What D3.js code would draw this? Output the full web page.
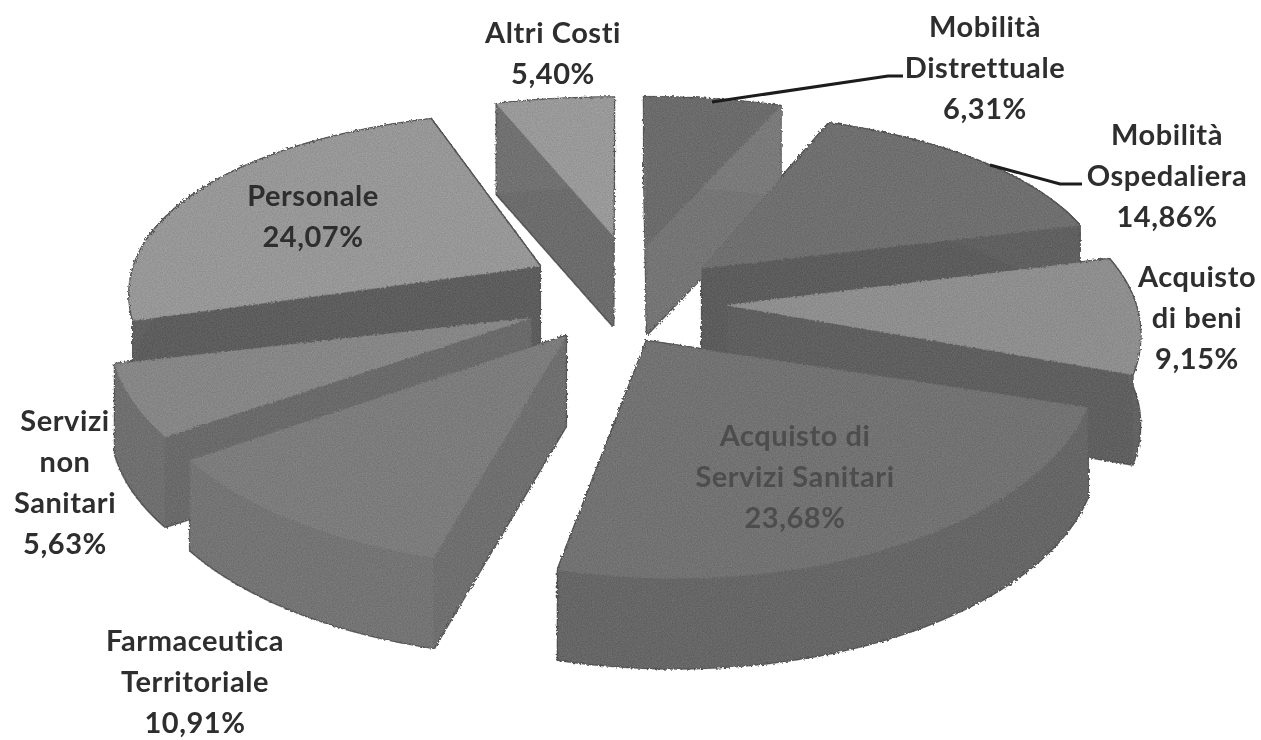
<!DOCTYPE html>
<html><head><meta charset="utf-8">
<script src="https://cdnjs.cloudflare.com/ajax/libs/d3/7.8.5/d3.min.js"></script>
<style>html,body{margin:0;background:#fff}svg{display:block}text{font-family:Lato,"Open Sans",sans-serif;font-weight:700;text-anchor:middle}</style>
</head><body><svg id="c" width="1261" height="740"></svg>
<script>
const categories=["Mobilità Distrettuale","Mobilità Ospedaliera","Acquisto di beni","Acquisto di Servizi Sanitari","Farmaceutica Territoriale","Servizi non Sanitari","Personale","Altri Costi"];
const values=[6.31,14.86,9.15,23.68,10.91,5.63,24.07,5.40];
const valueLabels=["6,31%","14,86%","9,15%","23,68%","10,91%","5,63%","24,07%","5,40%"];
const labelLines=[["Mobilità","Distrettuale"],["Mobilità","Ospedaliera"],["Acquisto","di beni"],["Acquisto di","Servizi Sanitari"],["Farmaceutica","Territoriale"],["Servizi","non","Sanitari"],["Personale"],["Altri Costi"]];
const labelAnchor=[[985,27],[1167,135],[1197,277],[795,436],[195,641],[65,421],[313,196],[553,33]];
const explosion=[.25,.25,.25,.2,.25,.25,.25,.25];
const nudgeU=[.006,-.008,-.022,.012,-.018,0,.012,.01];
const nudgeV=[-.01,.05,.065,.045,-.03,-.03,-.01,-.005];
const apexPullU=[0,.008,.018,-.055,.018,0,0,.002];
const apexPullV=[.01,0,0,.03,.05,.06,0,-.04];
const topFill=["#6b6b6b","#6f6f6f","#8e8e8e","#727272","#7c7c7c","#868686","#979797","#999999"];
const wallFill=["#757575","#5c5c5c","#5f5f5f","#626262","#6f6f6f","#6a6a6a","#5d5d5d","#6c6c6c"];
const leaders=[[[712,102],[888,76],[903,76]],[[990,165],[1060,184],[1082,184]]];

const cx=625,cy=290,depth=90;
const sx=(u,v)=>cx+u*412*(1+.124*v);
const sy=(v)=>cy+195.5*v+33.4*v*v;
const svg=d3.select("#c");
const defs=svg.append("defs");
const f=defs.append("filter").attr("id","rough").attr("x","-5%").attr("y","-5%").attr("width","110%").attr("height","110%").attr("color-interpolation-filters","sRGB");
f.append("feMorphology").attr("in","SourceAlpha").attr("operator","dilate").attr("radius",.8).attr("result","fat");
f.append("feFlood").attr("flood-color","#262626").attr("flood-opacity",.85).attr("result","ink");
f.append("feComposite").attr("in","ink").attr("in2","fat").attr("operator","in").attr("result","edge");
const m=f.append("feMerge").attr("result","base");
m.append("feMergeNode").attr("in","edge");
m.append("feMergeNode").attr("in","SourceGraphic");
f.append("feTurbulence").attr("type","fractalNoise").attr("baseFrequency",.45).attr("numOctaves",1).attr("seed",4).attr("result","n");
f.append("feDisplacementMap").attr("in","base").attr("in2","n").attr("scale",4).attr("result","d");
f.append("feTurbulence").attr("type","fractalNoise").attr("baseFrequency",.8).attr("numOctaves",2).attr("seed",9).attr("result","g0");
f.append("feColorMatrix").attr("in","g0").attr("type","matrix").attr("values","1 0 0 0 0 1 0 0 0 0 1 0 0 0 0 0 0 0 0 1").attr("result","g");
f.append("feComposite").attr("in","d").attr("in2","g").attr("operator","arithmetic").attr("k1",0).attr("k2",1).attr("k3",.14).attr("k4",-.07).attr("result","gr");
f.append("feComposite").attr("in","gr").attr("in2","d").attr("operator","in");
const g2=defs.append("filter").attr("id","soft");
g2.append("feGaussianBlur").attr("stdDeviation",.5);

const arcs=d3.pie().sort(null).value(d=>d).startAngle(0).endAngle(2*Math.PI)(values);
const slices=arcs.map((a,i)=>{
  const mid=(a.startAngle+a.endAngle)/2, e=explosion[i];
  const c=[e*Math.sin(mid)+nudgeU[i],-e*Math.cos(mid)+nudgeV[i]];
  const apex=[c[0]+apexPullU[i],c[1]+apexPullV[i]];
  const pts=d3.range(0,41).map(k=>{
    const t=a.startAngle+(a.endAngle-a.startAngle)*k/40;
    return [c[0]+Math.sin(t),c[1]-Math.cos(t)];
  });
  return {i,apex,pts};
});
const P=([u,v],z=0)=>[sx(u,v),sy(v)+z];
const lg=d3.line();
const pie=svg.append("g").attr("filter","url(#rough)");
slices.slice().sort((a,b)=>d3.ascending(P(a.apex)[1],P(b.apex)[1])).forEach(s=>{
  const g=pie.append("g");
  const first=s.pts[0],last=s.pts[s.pts.length-1];
  const wall=(poly,fill)=>g.append("path").attr("d",lg(poly)+"Z").attr("fill",fill).attr("stroke",fill).attr("stroke-width",.6);
  wall([P(s.apex),P(first),P(first,depth),P(s.apex,depth)],wallFill[s.i]);
  wall([P(s.apex),P(last),P(last,depth),P(s.apex,depth)],wallFill[s.i]);
  wall(s.pts.map(p=>P(p)).concat(s.pts.slice().reverse().map(p=>P(p,depth))),d3.color(wallFill[s.i]).brighter(.12).formatHex());
  g.append("path").attr("d",lg([P(s.apex)].concat(s.pts.map(p=>P(p))))+"Z").attr("fill",topFill[s.i]).attr("stroke",topFill[s.i]).attr("stroke-width",.6);
});
const lead=svg.append("g");
leaders.forEach(l=>lead.append("path").attr("d",lg(l)).attr("fill","none").attr("stroke","#1c1c1c").attr("stroke-width",3));
const txt=svg.append("g").attr("filter","url(#soft)");
labelLines.forEach((lines,i)=>{
  lines.concat([valueLabels[i]]).forEach((t,k)=>{
    txt.append("text").attr("x",labelAnchor[i][0]).attr("y",labelAnchor[i][1]+k*41).attr("dy",".35em")
      .attr("font-size",29).attr("letter-spacing",.55).style("fill",i===3?"#4d4d4d":"#2e2e2e").text(t);
  });
});
</script></body></html>
